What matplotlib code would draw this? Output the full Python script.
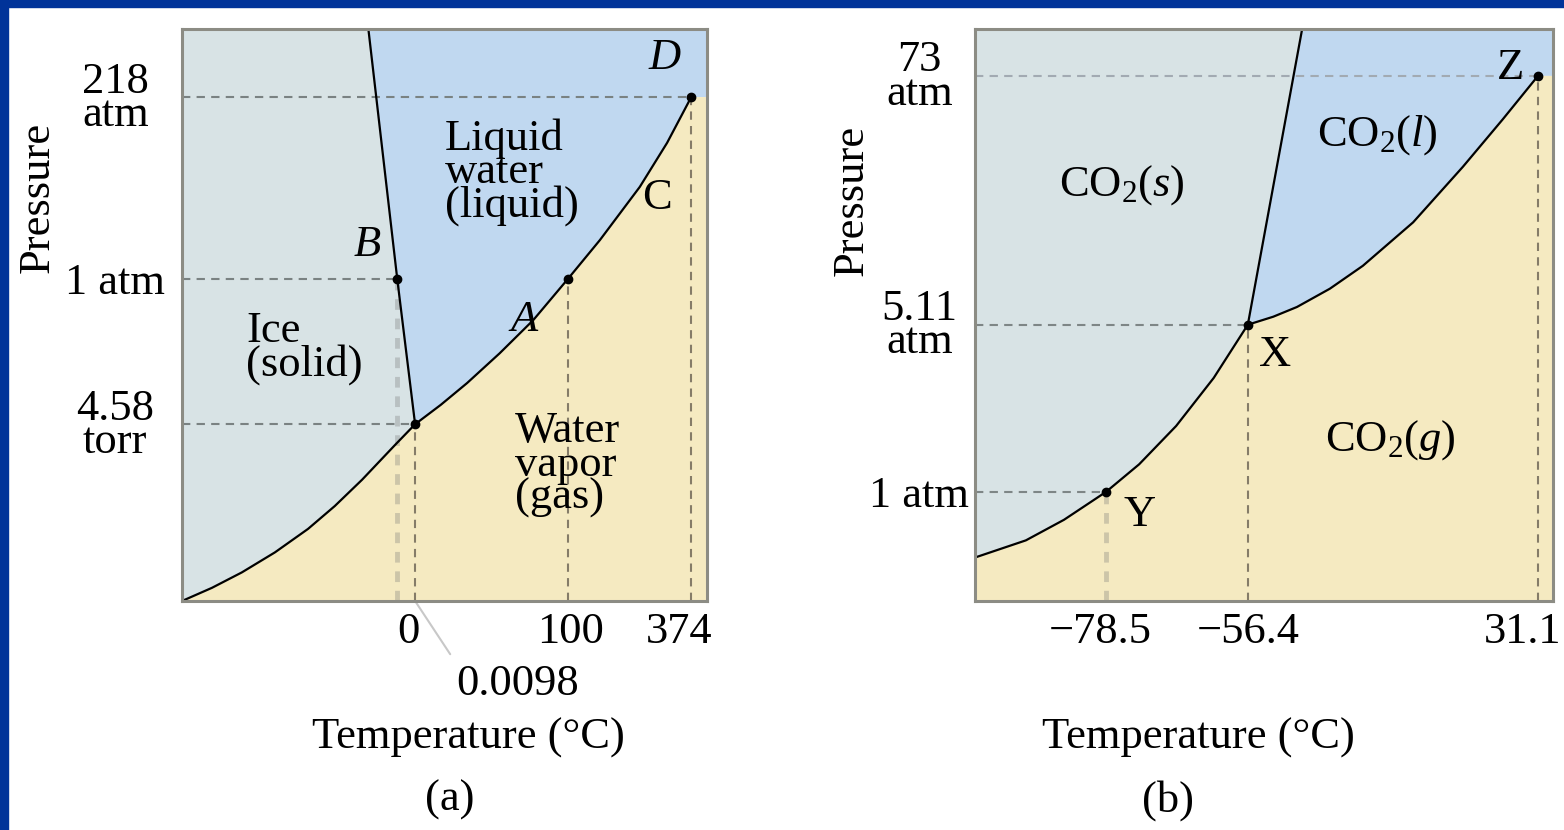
import matplotlib
matplotlib.use("Agg")
import matplotlib.pyplot as plt
from matplotlib.patches import Rectangle
from matplotlib.transforms import offset_copy

plt.rcParams["font.family"] = ["Liberation Serif", "DejaVu Serif"]
plt.rcParams["mathtext.fontset"] = "custom"
plt.rcParams["mathtext.rm"] = "Liberation Serif"
plt.rcParams["mathtext.it"] = "Liberation Serif:italic"

# Both diagrams are schematic (not to scale): positions are in diagram units 0-100.

# (a) water
water_sub_t = [0, 5.7, 11.4, 17.7, 24.0, 29.1, 34.3, 40.6, 44.4]
water_sub_p = [0, 2.3, 5.0, 8.5, 12.6, 16.6, 21.2, 27.3, 30.9]
water_vap_t = [44.4, 49.3, 54.3, 60.5, 66.9, 73.5, 79.6, 87.2, 92.4, 97.0]
water_vap_p = [30.9, 34.3, 38.1, 43.3, 49.1, 56.3, 63.1, 72.4, 80.1, 88.1]
water_melt_t = [44.4, 41.0, 35.5]
water_melt_p = [30.9, 56.3, 100]
water_points_t = [41.0, 73.5, 44.4, 97.0]
water_points_p = [56.3, 56.3, 30.9, 88.1]
water_p_ticks = [30.9, 56.3, 88.1]
water_p_labels = ["4.58\ntorr", "1 atm", "218\natm"]
water_t_ticks = [41.0, 73.5, 97.0]
water_t_labels = ["0", "100", "374"]
water_triple_t = 44.4
water_triple_label = "0.0098"

# (b) carbon dioxide
co2_sub_t = [0, 8.8, 15.4, 22.7, 28.4, 34.8, 41.3, 47.2]
co2_sub_p = [7.6, 10.6, 14.2, 19.1, 23.9, 30.6, 39.0, 48.3]
co2_vap_t = [47.2, 51.6, 55.7, 61.4, 67.1, 75.8, 84.4, 91.3, 97.4]
co2_vap_p = [48.3, 49.7, 51.4, 54.6, 58.6, 66.2, 75.9, 84.2, 91.8]
co2_melt_t = [47.2, 56.6]
co2_melt_p = [48.3, 100]
co2_points_t = [22.7, 47.2, 97.4]
co2_points_p = [19.1, 48.3, 91.8]
co2_p_ticks = [19.1, 48.3, 91.8]
co2_p_labels = ["1 atm", "5.11\natm", "73\natm"]
co2_t_ticks = [22.7, 47.2, 97.4]
co2_t_labels = ["\u221278.5", "\u221256.4", "31.1"]

SOLID = "#D8E3E5"
LIQUID = "#C0D8F0"
VAPOR = "#F5EAC1"
FS = 32


def draw_diagram(ax, sub_t, sub_p, vap_t, vap_p, melt_t, melt_p, pts_t, pts_p,
                 p_ticks, p_labels, t_ticks, t_labels, ypad, tick_nudge, hline_cols):
    ax.set_xlim(0, 100)
    ax.set_ylim(0, 100)

    # phase regions
    ax.fill(sub_t + melt_t[1:] + [0], sub_p + melt_p[1:] + [100], color=SOLID, lw=0)
    ax.fill(vap_t + [100, 100] + melt_t[::-1], vap_p + [vap_p[-1], 100] + melt_p[::-1],
            color=LIQUID, lw=0)
    ax.fill(sub_t + vap_t[1:] + [100, 100, 0], sub_p + vap_p[1:] + [vap_p[-1], 0, 0],
            color=VAPOR, lw=0)

    # guide lines
    for p, col in zip(p_ticks, hline_cols):
        x_end = pts_t[pts_p.index(p)]
        ax.plot([0, x_end], [p, p], color=col, lw=1.5, dashes=(4, 3), zorder=2)
    for t, p in zip(pts_t, pts_p):
        if t == t_ticks[0]:
            ax.plot([t, t], [0, p], color="#707070", alpha=0.3, lw=3.5, dashes=(2.2, 1.8), zorder=2)
        else:
            ax.plot([t, t], [0, p], color="#857C68", lw=1.5, dashes=(4, 3), zorder=2)

    # phase boundaries
    ax.plot(sub_t, sub_p, color="black", lw=1.6, zorder=3, solid_joinstyle="round")
    ax.plot(vap_t, vap_p, color="black", lw=1.6, zorder=3, solid_joinstyle="round")
    ax.plot(melt_t, melt_p, color="black", lw=1.6, zorder=3, solid_joinstyle="round")
    ax.plot(pts_t, pts_p, "o", color="black", ms=6, zorder=4)

    ax.set_yticks(p_ticks, p_labels, fontsize=FS, linespacing=0.78)
    for lab in ax.get_yticklabels():
        lab.set_ha("center")
        lab.set_multialignment("center")
    ax.tick_params(axis="y", length=0, pad=ypad)

    ax.set_xticks(t_ticks, [""] * len(t_ticks))
    ax.tick_params(axis="x", length=0)
    for t, lab, dx in zip(t_ticks, t_labels, tick_nudge):
        tr = offset_copy(ax.get_xaxis_transform(), fig=ax.figure, x=dx, y=-11, units="dots")
        ax.text(t, 0, lab, transform=tr, fontsize=FS, ha="center", va="top")

    for sp in ax.spines.values():
        sp.set_color("#8C8C84")
        sp.set_linewidth(2.2)
        sp.set_zorder(5)


fig = plt.figure(figsize=(15.64, 8.30), dpi=100)
fig.patch.set_facecolor("white")

ax_a = fig.add_axes([182 / 1564, 229 / 830, 525 / 1564, 572 / 830])
ax_b = fig.add_axes([975 / 1564, 229 / 830, 578 / 1564, 572 / 830])

draw_diagram(ax_a, water_sub_t, water_sub_p, water_vap_t, water_vap_p, water_melt_t,
             water_melt_p, water_points_t, water_points_p, water_p_ticks, water_p_labels,
             water_t_ticks, water_t_labels, 48, [11, 3, -12],
             ["#7A8282", "#7A8282", "#7A8282"])
draw_diagram(ax_b, co2_sub_t, co2_sub_p, co2_vap_t, co2_vap_p, co2_melt_t,
             co2_melt_p, co2_points_t, co2_points_p, co2_p_ticks, co2_p_labels,
             co2_t_ticks, co2_t_labels, 40, [-6, 0, -15],
             ["#7E8686", "#7E8686", "#A2AAB2"])

# water labels
ax_a.text(50.1, 75.0, "Liquid\nwater\n(liquid)", fontsize=FS, ha="left", va="center", linespacing=0.78)
ax_a.text(12.2, 44.2, "Ice\n(solid)", fontsize=FS, ha="left", va="center", linespacing=0.78)
ax_a.text(63.4, 23.8, "Water\nvapor\n(gas)", fontsize=FS, ha="left", va="center", linespacing=0.78)
ax_a.text(35.2, 62.2, "B", fontsize=FS, style="italic", ha="center", va="center")
ax_a.text(65.1, 49.1, "A", fontsize=FS, style="italic", ha="center", va="center")
ax_a.text(90.5, 70.5, "C", fontsize=FS, ha="center", va="center")
ax_a.text(92.0, 94.9, "D", fontsize=FS, style="italic", ha="center", va="center")
ax_a.annotate(water_triple_label, xy=(water_triple_t, 0), xycoords="data",
              xytext=(0.64, -0.145), textcoords="axes fraction", fontsize=FS,
              ha="center", va="center",
              arrowprops=dict(arrowstyle="-", color="#C8C8C8", lw=1.5,
                              relpos=(0.0, 1.0), shrinkA=6, shrinkB=0))
ax_a.text(-0.274, 0.706, "Pressure", fontsize=FS, rotation=90, ha="center", va="center",
          transform=ax_a.transAxes)
ax_a.text(0.545, -0.24, "Temperature (\u00b0C)", fontsize=FS, ha="center", va="center",
          transform=ax_a.transAxes)
ax_a.text(0.51, -0.348, "(a)", fontsize=FS, ha="center", va="center", transform=ax_a.transAxes)

# CO2 labels
ax_b.text(25.4, 72.7, "CO$_2$($s$)", fontsize=FS, ha="center", va="center")
ax_b.text(69.7, 81.5, "CO$_2$($l$)", fontsize=FS, ha="center", va="center")
ax_b.text(71.8, 28.1, "CO$_2$($g$)", fontsize=FS, ha="center", va="center")
ax_b.text(51.9, 43.0, "X", fontsize=FS, ha="center", va="center")
ax_b.text(28.5, 15.0, "Y", fontsize=FS, ha="center", va="center")
ax_b.text(92.6, 93.2, "Z", fontsize=FS, ha="center", va="center")
ax_b.text(-0.213, 0.70, "Pressure", fontsize=FS, rotation=90, ha="center", va="center",
          transform=ax_b.transAxes)
ax_b.text(0.386, -0.24, "Temperature (\u00b0C)", fontsize=FS, ha="center", va="center",
          transform=ax_b.transAxes)
ax_b.text(0.334, -0.348, "(b)", fontsize=FS, ha="center", va="center", transform=ax_b.transAxes)

# slide frame
fig.patches.append(Rectangle((0, 0), 8 / 1564, 1, transform=fig.transFigure,
                             color="#003399", zorder=10))
fig.patches.append(Rectangle((0, 1 - 7 / 830), 1, 7 / 830, transform=fig.transFigure,
                             color="#003399", zorder=10))

fig.savefig("out.png", dpi=100)
